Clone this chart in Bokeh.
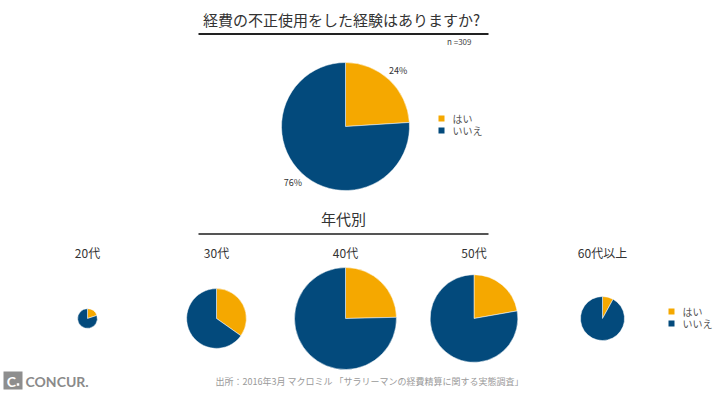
import math
from bokeh.plotting import figure
from bokeh.models import Range1d
from bokeh.core.properties import value
from bokeh.embed import file_html
from bokeh.resources import INLINE

# ---- data ----
main_title = "経費の不正使用をした経験はありますか?"
sample_note = "n =309"
answer_labels = ["はい", "いいえ"]
main_percent = [24, 76]

age_title = "年代別"
age_groups = ["20代", "30代", "40代", "50代", "60代以上"]
age_yes = [1, 16, 33, 22, 2]
age_n = [5, 46, 134, 99, 25]

source_text = "出所：2016年3月 マクロミル 「サラリーマンの経費精算に関する実態調査」"
logo_text = "CONCUR."

# ---- style ----
COLORS = ["#F5A800", "#034A7C"]
FONT = value("Noto Sans CJK JP")
W, H = 720, 395

p = figure(width=W, height=H, output_backend="svg", toolbar_location=None,
           x_range=Range1d(0, W), y_range=Range1d(0, H),
           min_border=0, match_aspect=False)
p.axis.visible = False
p.grid.visible = False
p.outline_line_color = None
p.background_fill_color = "white"
p.border_fill_color = "white"


def Y(y):
    return 395 - y


def pie(cx, cy, r, fractions):
    start = math.pi / 2
    for frac, col in zip(fractions, COLORS):
        end = start - 2 * math.pi * frac
        p.wedge(x=cx, y=Y(cy), radius=r, start_angle=end, end_angle=start,
                fill_color=col, line_color="white", line_width=0.5)
        start = end


def legend(x, y):
    for i, (lab, col) in enumerate(zip(answer_labels, COLORS)):
        yy = y + i * 12
        p.rect(x=x, y=Y(yy), width=6, height=6, fill_color=col, line_color=None)
        p.text(x=x + 11, y=Y(yy), text=[lab], text_font=FONT, text_font_size="10px",
               text_color="#555555", text_baseline="middle", text_align="left")


# ---- main pie ----
p.text(x=341, y=Y(19), text=[main_title], text_font=FONT, text_font_size="15px",
       text_color="#333333", text_align="center", text_baseline="middle")
p.segment(x0=198, y0=Y(33.5), x1=488, y1=Y(33.5), line_color="#222222", line_width=2)
p.text(x=471, y=Y(41), text=[sample_note], text_font=FONT, text_font_size="8px",
       text_color="#444444", text_align="right", text_baseline="middle")

cx, cy, R = 345, 126, 64
fr = [v / sum(main_percent) for v in main_percent]
pie(cx, cy, R, fr)
acc = 0
for v, f in zip(main_percent, fr):
    mid = math.pi / 2 - 2 * math.pi * (acc + f / 2)
    acc += f
    p.text(x=cx + 1.2 * R * math.cos(mid), y=Y(cy) + 1.2 * R * math.sin(mid),
           text=[f"{v}%"], text_font=FONT, text_font_size="9px", text_color="#333333",
           text_align="center", text_baseline="middle")
legend(441, 118)

# ---- age pies ----
p.text(x=343, y=Y(218), text=[age_title], text_font=FONT, text_font_size="15px",
       text_color="#333333", text_align="center", text_baseline="middle")
p.segment(x0=198, y0=Y(233.5), x1=488, y1=Y(233.5), line_color="#555555", line_width=2)

xs = [87, 216, 345, 473.5, 602]
k = 51 / math.sqrt(max(age_n))
for xc, g, yes, n in zip(xs, age_groups, age_yes, age_n):
    p.text(x=xc, y=Y(252), text=[g], text_font=FONT, text_font_size="12px",
           text_color="#333333", text_align="center", text_baseline="middle")
    pie(xc, 318, k * math.sqrt(n), [yes / n, 1 - yes / n])
legend(671, 311)

# ---- footer ----
p.rect(x=12.5, y=Y(380), width=19, height=18, fill_color="#8E8E8E", line_color=None)
p.text(x=11, y=Y(380.5), text=["C"], text_font=value("Lato"), text_font_style="bold",
       text_font_size="14px", text_color="white", text_align="center", text_baseline="middle")
p.rect(x=17.5, y=Y(384), width=2.5, height=2.5, fill_color="white", line_color=None)
p.text(x=25, y=Y(380.5), text=[logo_text], text_font=value("Lato"), text_font_style="bold",
       text_font_size="14px", text_color="#8A8A8A", text_align="left", text_baseline="middle")
p.text(x=215, y=Y(381), text=[source_text], text_font=FONT, text_font_size="9px",
       text_color="#9A9A9A", text_align="left", text_baseline="middle")

open("out.html", "w").write(file_html(p, INLINE))
